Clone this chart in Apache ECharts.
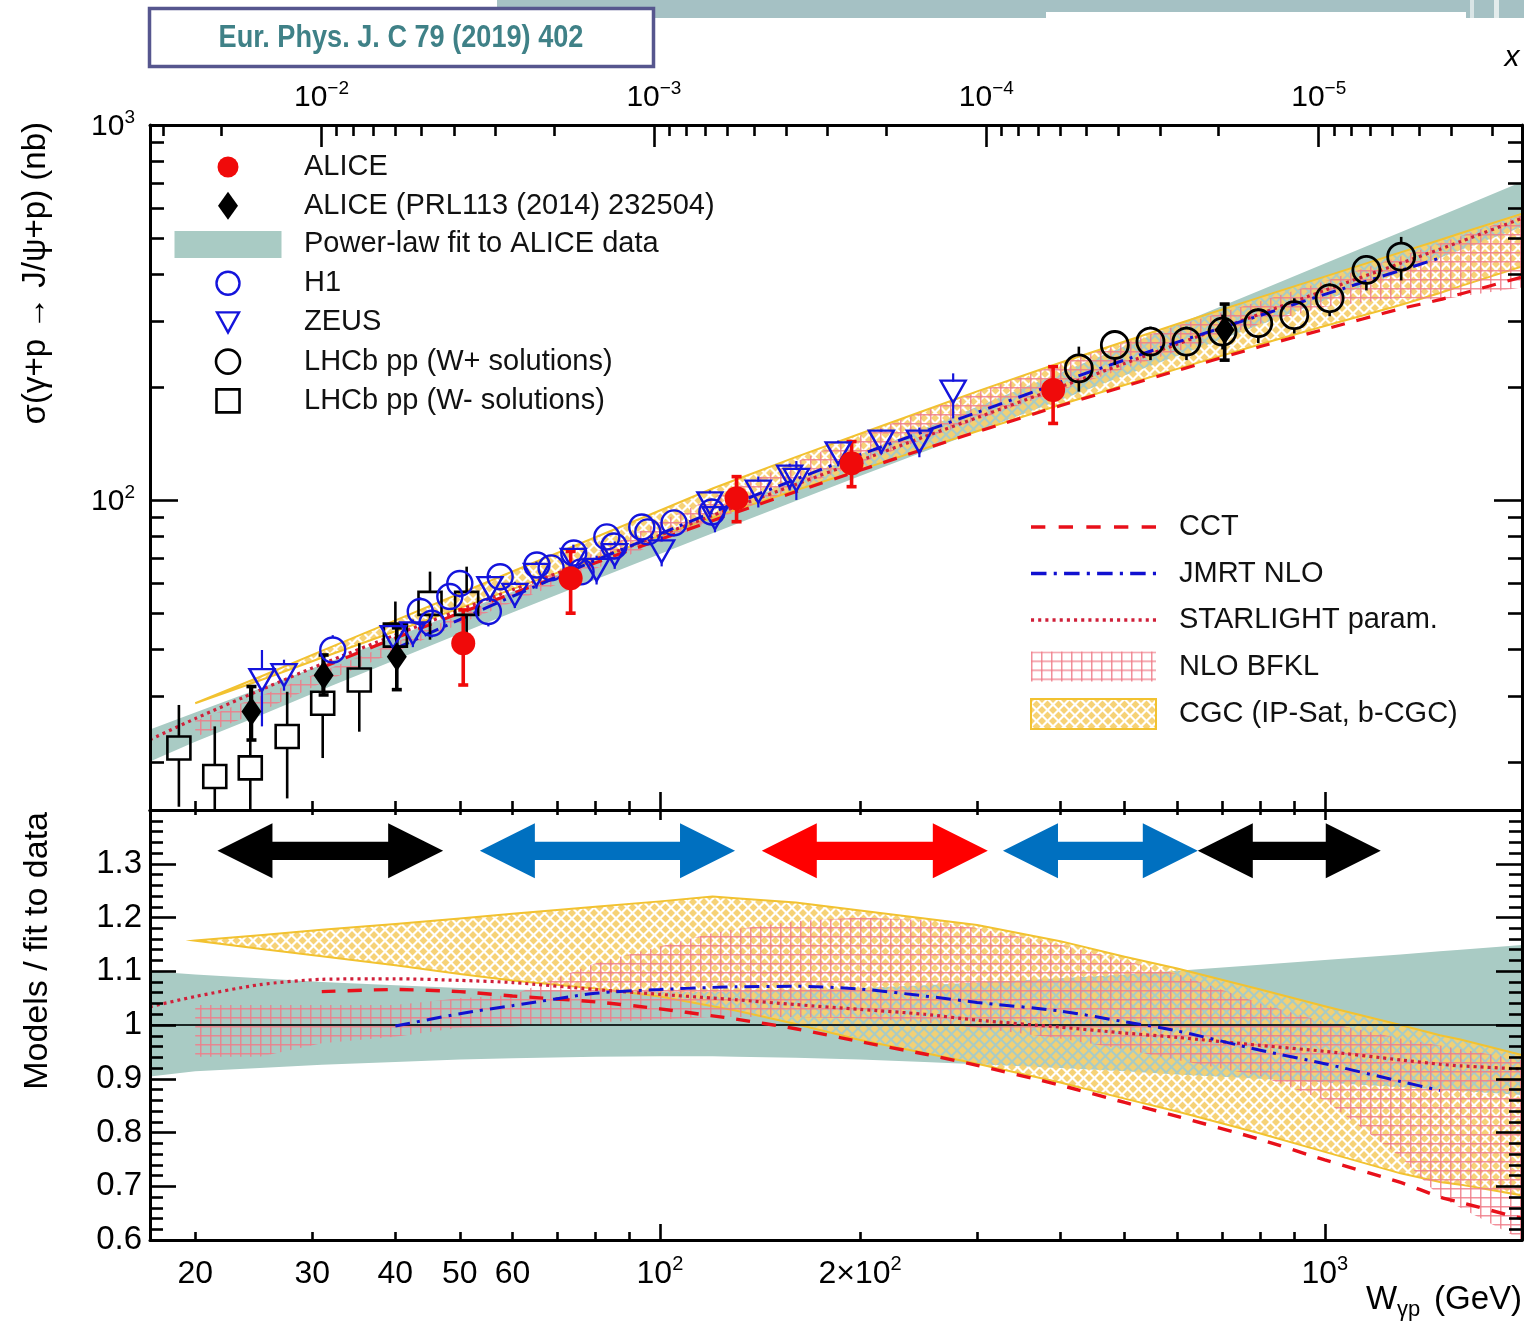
<!DOCTYPE html>
<html>
<head>
<meta charset="utf-8">
<script src="https://cdn.jsdelivr.net/npm/echarts@6/dist/echarts.min.js"></script>
<style>
  html, body { margin: 0; padding: 0; background: #ffffff; }
  #chart { width: 1524px; height: 1321px; }
</style>
</head>
<body>
<div id="chart"></div>
<script>
// ---------------------------------------------------------------------------
// J/psi photoproduction cross section vs W_gamma-p, with model ratios
// ---------------------------------------------------------------------------

// Common W grid (GeV) on which the model curves and the fit band are tabulated
const wGrid = [17.1, 20, 25, 31, 40, 50, 60, 80, 100, 120, 130, 160, 200, 250, 300, 400, 500, 600, 800, 1000, 1300, 1490, 1600, 1980];

// Power-law fit to the ALICE data (central value, nb) on wGrid
const fitSigma = [22.2, 24.8, 28.9, 33.65, 40.2, 47.0, 53.4, 65.2, 76.2, 86.6, 91.6, 105.9, 123.8, 144.6, 164.3, 200.9, 234.8, 266.6, 326.0, 380.9, 457.5, 503.2, 528.9, 614.1];
// Fit uncertainty band, as ratio to the central fit
const fitRatioHi = [1.100, 1.094, 1.087, 1.080, 1.074, 1.069, 1.066, 1.063, 1.062, 1.062, 1.063, 1.065, 1.069, 1.074, 1.079, 1.087, 1.094, 1.101, 1.112, 1.121, 1.131, 1.137, 1.140, 1.149];
const fitRatioLo = [0.904, 0.914, 0.920, 0.926, 0.931, 0.936, 0.938, 0.941, 0.942, 0.942, 0.941, 0.939, 0.936, 0.931, 0.927, 0.920, 0.914, 0.908, 0.900, 0.893, 0.884, 0.880, 0.877, 0.870];

// Models / fit
const cctRatio       = [null, null, null, 1.062, 1.066, 1.062, 1.054, 1.043, 1.030, 1.017, 1.011, 0.993, 0.969, 0.946, 0.925, 0.888, 0.856, 0.830, 0.787, 0.749, 0.707, 0.680, 0.670, 0.640];
const jmrtRatio      = [null, null, null, null, 0.998, 1.021, 1.036, 1.059, 1.066, 1.070, 1.071, 1.072, 1.067, 1.054, 1.042, 1.026, 1.006, 0.989, 0.953, 0.928, 0.895, 0.878, null, null];
const starlightRatio = [1.034, 1.053, 1.075, 1.085, 1.086, 1.083, 1.079, 1.066, 1.057, 1.050, 1.047, 1.038, 1.029, 1.020, 1.009, 0.996, 0.985, 0.977, 0.962, 0.951, 0.935, 0.927, 0.924, 0.918];
const bfklRatioHi    = [null, 1.037, 1.037, 1.037, 1.037, 1.050, 1.056, 1.115, 1.146, 1.171, 1.178, 1.193, 1.200, 1.195, 1.180, 1.150, 1.120, 1.095, 1.040, 1.005, 0.975, 0.962, 0.955, 0.935];
const bfklRatioLo    = [null, 0.941, 0.941, 0.966, 0.978, 0.995, 0.997, 1.005, 1.010, 1.015, 1.015, 1.015, 1.012, 1.005, 0.995, 0.975, 0.955, 0.935, 0.905, 0.860, 0.755, 0.680, 0.660, 0.600];
const cgcRatioHi     = [null, 1.157, 1.167, 1.177, 1.188, 1.198, 1.207, 1.220, 1.230, 1.239, 1.236, 1.228, 1.213, 1.198, 1.186, 1.156, 1.127, 1.105, 1.066, 1.035, 1.000, 0.981, 0.973, 0.944];
const cgcRatioLo     = [null, 1.157, 1.142, 1.128, 1.111, 1.095, 1.083, 1.068, 1.053, 1.035, 1.027, 1.002, 0.972, 0.948, 0.928, 0.893, 0.863, 0.839, 0.798, 0.764, 0.724, 0.708, 0.703, 0.683];

// Measurements: [W (GeV), sigma (nb), sigma low, sigma high]
const aliceData = [
  [50.6, 41.5, 32.1, 50.9],
  [73.4, 61.8, 49.9, 72.9],
  [130.4, 101.0, 87.5, 115.4],
  [194.2, 125.3, 108.5, 143.1],
  [390.3, 196.5, 160.0, 226.7]
];
const alice2014Data = [
  [24.3, 27.3, 22.9, 31.8],
  [31.2, 34.1, 30.2, 38.6],
  [40.2, 38.2, 31.2, 45.6],
  [707, 284, 236, 333]
];
const h1Data = [
  [32.2, 39.8, 36.7, 43.6],
  [43.6, 50.4, 46.0, 55.0],
  [45.4, 46.9, 43.0, 51.0],
  [48.3, 55.3, 51.0, 60.0],
  [50.0, 59.9, 55.0, 65.0],
  [55.2, 50.4, 46.0, 55.0],
  [57.5, 62.4, 57.5, 67.5],
  [65.3, 67.1, 62.0, 72.5],
  [68.6, 65.9, 61.0, 71.0],
  [74.2, 72.2, 66.5, 78.0],
  [76.1, 64.3, 59.5, 69.5],
  [83.2, 79.7, 73.5, 86.0],
  [85.3, 75.4, 69.5, 81.5],
  [93.9, 84.7, 78.0, 91.5],
  [95.9, 82.2, 76.0, 89.0],
  [105.0, 86.9, 80.0, 94.0],
  [119.7, 92.9, 85.5, 100.5]
];
const zeusData = [
  [25.2, 33.1, 24.9, 39.8],
  [27.2, 34.1, 31.0, 37.5],
  [39.7, 43.1, 39.5, 47.0],
  [42.5, 44.1, 40.5, 48.0],
  [55.5, 58.2, 53.5, 63.0],
  [60.5, 55.8, 51.5, 60.5],
  [65.2, 63.1, 58.0, 68.5],
  [74.1, 69.2, 62.0, 76.0],
  [80.3, 65.1, 59.5, 71.0],
  [85.5, 71.3, 65.5, 77.5],
  [100.6, 72.9, 66.5, 80.0],
  [118.9, 98.0, 90.0, 106.0],
  [121.0, 89.4, 82.0, 97.0],
  [140.6, 105.2, 95.5, 115.5],
  [156.7, 115.4, 106.0, 125.0],
  [160.4, 113.1, 100.0, 127.0],
  [185.4, 133.2, 123.0, 144.0],
  [215.3, 143.1, 133.0, 154.0],
  [245.6, 143.1, 130.0, 156.0],
  [276.1, 194.5, 165.0, 217.6]
];
const lhcbPlusData = [
  [426.7, 224.4, 194.5, 256.4],
  [483.3, 259.0, 229.0, 284.0],
  [546.8, 264.4, 236.0, 290.0],
  [619.4, 264.4, 236.0, 290.0],
  [701.8, 281.0, 252.0, 312.0],
  [794.3, 296.0, 262.0, 324.0],
  [899.8, 311.0, 278.0, 345.0],
  [1017, 345.0, 309.0, 378.0],
  [1155, 410.6, 362.0, 450.0],
  [1303, 445.6, 385.0, 503.0]
];
const lhcbMinusData = [
  [18.9, 21.8, 15.2, 28.4],
  [21.4, 18.3, 12.0, 24.9],
  [24.2, 19.3, 12.0, 31.8],
  [27.5, 23.4, 16.0, 30.8],
  [31.1, 28.7, 20.5, 38.6],
  [35.3, 33.1, 24.1, 41.5],
  [40.0, 43.6, 36.0, 53.6],
  [45.1, 53.0, 42.4, 64.4],
  [51.2, 53.0, 44.0, 66.4]
];

// W ranges marked with double arrows in the ratio panel
const arrowRanges = [[21.6, 47.2], [53.6, 129.7], [142.3, 311.3], [328.1, 644.2], [644.2, 1214]];
const arrowColors = ['#000000', '#0070c0', '#ff0000', '#0070c0', '#000000'];
const arrowLevel = 1.324;

// Axis ticks and labels
const wMajorTicks = [100, 1000];
const wMinorTicks = [20, 30, 40, 50, 60, 70, 80, 90, 200, 300, 400, 500, 600, 700, 800, 900];
const wTickLabels = [20, 30, 40, 50, 60, 100, 200, 1000];
const sigmaMajorTicks = [100, 1000];
const sigmaMinorTicks = [20, 30, 40, 50, 60, 70, 80, 90, 200, 300, 400, 500, 600, 700, 800, 900];
const xBjMajorTicks = [1e-2, 1e-3, 1e-4, 1e-5];
const xBjMinorTicks = [];
[-6, -5, -4, -3, -2].forEach(function (e) {
  for (let k = 2; k <= 9; k++) xBjMinorTicks.push(k * Math.pow(10, e));
});

// ---------------------------------------------------------------------------
// Ranges and styling
// ---------------------------------------------------------------------------
const FONT = "'Liberation Sans', Arial, Helvetica, sans-serif";
const W_MIN = 17.1, W_MAX = 1980;
const SIGMA_MIN = 14.9, SIGMA_MAX = 1000;
const M_JPSI = 3.0969;                                  // GeV, for the Bjorken-x axis x = M^2 / W^2
const X_MIN = M_JPSI * M_JPSI / (W_MAX * W_MAX);
const X_MAX = M_JPSI * M_JPSI / (W_MIN * W_MIN);

const TEAL = '#a9cbc4';
const CGC_LINE = '#f2c230';
const RED = '#f00a0a';
const BLUE = '#1414dc';
const CCT_COLOR = '#e8101a';
const JMRT_COLOR = '#1010d0';
const STARLIGHT_COLOR = '#d0203a';

function makePattern(w, h, draw) {
  const c = document.createElement('canvas');
  c.width = w; c.height = h;
  draw(c.getContext('2d'));
  return { image: c, repeat: 'repeat' };
}
// CGC: yellow diamond crosshatch
const cgcPattern = makePattern(11, 11, function (ctx) {
  ctx.fillStyle = 'rgba(246,208,112,0.95)';
  const d = 4.0;
  [[5.5, 5.5], [0, 0], [11, 0], [0, 11], [11, 11]].forEach(function (p) {
    ctx.beginPath();
    ctx.moveTo(p[0], p[1] - d); ctx.lineTo(p[0] + d, p[1]);
    ctx.lineTo(p[0], p[1] + d); ctx.lineTo(p[0] - d, p[1]);
    ctx.closePath(); ctx.fill();
  });
});
// NLO BFKL: pink grid hatch
const bfklPattern = makePattern(10, 9, function (ctx) {
  ctx.fillStyle = 'rgba(240,125,138,0.85)';
  ctx.fillRect(0, 0, 10, 1.5);
  ctx.fillRect(0, 0, 1.5, 9);
});

// Rich-text styles for power-of-ten labels
function richNum(size, supSize) {
  return {
    b: { fontSize: size, lineHeight: size + 4, verticalAlign: 'bottom', fontFamily: FONT, color: '#000' },
    sup: { fontSize: supSize, lineHeight: 16, verticalAlign: 'top', fontFamily: FONT, color: '#000' }
  };
}
function wLabel(v) {
  const r = Math.round(v);
  if (r === 100) return '{b|10}{sup|2}';
  if (r === 1000) return '{b|10}{sup|3}';
  if (r === 200) return '{b|2×10}{sup|2}';
  return '{b|' + r + '}';
}
function powLabel(v) {
  const e = Math.round(Math.log10(v));
  return '{b|10}{sup|' + (e < 0 ? '\u2212' + (-e) : e) + '}';
}

const tickLine = { color: '#000', width: 2.6 };
const frameLine = { show: true, onZero: false, lineStyle: { color: '#000', width: 3 } };

function tickAxis(base, ticks, len, extra) {
  return Object.assign({
    axisLine: { show: false, onZero: false },
    axisTick: { show: true, inside: true, length: len, customValues: ticks, lineStyle: tickLine },
    axisLabel: { show: false },
    splitLine: { show: false },
    minorTick: { show: false },
    z: 10
  }, base, extra || {});
}

const wTop = { type: 'log', gridIndex: 0, min: W_MIN, max: W_MAX, position: 'bottom' };
const xBjTop = { type: 'log', gridIndex: 0, min: X_MIN, max: X_MAX, inverse: true, position: 'top' };
const wBottom = { type: 'log', gridIndex: 1, min: W_MIN, max: W_MAX, position: 'bottom' };
const wBottomUpper = { type: 'log', gridIndex: 1, min: W_MIN, max: W_MAX, position: 'top' };
const sigmaLeft = { type: 'log', gridIndex: 0, min: SIGMA_MIN, max: SIGMA_MAX, position: 'left' };
const sigmaRight = { type: 'log', gridIndex: 0, min: SIGMA_MIN, max: SIGMA_MAX, position: 'right' };

function ratioAxis(position, withLabels) {
  return {
    type: 'value', gridIndex: 1, min: 0.6, max: 1.4, interval: 0.1, position: position,
    axisLine: frameLine,
    axisTick: { show: true, inside: true, length: 26, lineStyle: tickLine },
    minorTick: { show: true, splitNumber: 5, length: 13, lineStyle: tickLine },
    splitLine: { show: false },
    axisLabel: withLabels ? {
      show: true, margin: 8, fontSize: 33, fontFamily: FONT, color: '#000', showMaxLabel: false,
      formatter: function (v) { const r = Math.round(v * 10) / 10; return r === 1 ? '1' : r.toFixed(1); }
    } : { show: false },
    z: 10
  };
}

// ---------------------------------------------------------------------------
// Series builders
// ---------------------------------------------------------------------------
function bandPoints(hi, lo, toSigma) {
  const pts = [];
  wGrid.forEach(function (w, i) {
    if (hi[i] == null || lo[i] == null) return;
    const f = toSigma ? fitSigma[i] : 1;
    pts.push([w, lo[i] * f, hi[i] * f]);
  });
  return pts;
}
function bandSeries(name, hi, lo, top, fill, stroke, z) {
  const pts = bandPoints(hi, lo, top);
  return {
    type: 'custom', name: name, silent: true, clip: true, z: z,
    xAxisIndex: top ? 0 : 4, yAxisIndex: top ? 0 : 4,
    data: pts, encode: { x: 0, y: [1, 2] },
    renderItem: function (params, api) {
      if (params.dataIndex !== 0) return null;
      const upper = pts.map(function (p) { return api.coord([p[0], p[2]]); });
      const lower = pts.map(function (p) { return api.coord([p[0], p[1]]); }).reverse();
      return {
        type: 'polygon',
        shape: { points: upper.concat(lower) },
        style: { fill: fill, stroke: stroke || null, lineWidth: stroke ? 2 : 0 }
      };
    }
  };
}
function curveSeries(name, ratio, top, color, width, dash, z) {
  const data = [];
  wGrid.forEach(function (w, i) {
    if (ratio[i] == null) return;
    data.push([w, top ? ratio[i] * fitSigma[i] : ratio[i]]);
  });
  return {
    type: 'line', name: name, silent: true, z: z, clip: true,
    xAxisIndex: top ? 0 : 4, yAxisIndex: top ? 0 : 4,
    data: data, showSymbol: false, symbol: 'none', smooth: 0.25,
    itemStyle: { color: color },
    lineStyle: { color: color, width: width, type: dash, cap: 'butt' }
  };
}
function errorSeries(name, data, color, width, gap, cap) {
  return {
    type: 'custom', name: name, silent: true, z: 6,
    xAxisIndex: 0, yAxisIndex: 0,
    data: data, encode: { x: 0, y: [1, 2, 3] },
    renderItem: function (params, api) {
      const w = api.value(0);
      const c = api.coord([w, api.value(1)]);
      const lo = api.coord([w, api.value(2)]);
      const hi = api.coord([w, api.value(3)]);
      const cs = params.coordSys;
      const yTop = cs.y, yBot = cs.y + cs.height;
      const clampY = function (y) { return Math.max(yTop, Math.min(yBot, y)); };
      const style = { stroke: color, lineWidth: width };
      const kids = [];
      if (hi[1] < c[1] - gap) kids.push({ type: 'line', shape: { x1: c[0], y1: clampY(hi[1]), x2: c[0], y2: c[1] - gap }, style: style });
      if (lo[1] > c[1] + gap) kids.push({ type: 'line', shape: { x1: c[0], y1: c[1] + gap, x2: c[0], y2: clampY(lo[1]) }, style: style });
      if (cap) {
        if (hi[1] >= yTop) kids.push({ type: 'line', shape: { x1: c[0] - cap, y1: hi[1], x2: c[0] + cap, y2: hi[1] }, style: style });
        if (lo[1] <= yBot) kids.push({ type: 'line', shape: { x1: c[0] - cap, y1: lo[1], x2: c[0] + cap, y2: lo[1] }, style: style });
      }
      return { type: 'group', children: kids };
    }
  };
}
function markerSeries(name, data, symbol, size, itemStyle) {
  return {
    type: 'scatter', name: name, z: 7, silent: true,
    xAxisIndex: 0, yAxisIndex: 0,
    data: data, encode: { x: 0, y: 1 },
    symbol: symbol, symbolSize: size,
    itemStyle: Object.assign({ opacity: 1 }, itemStyle)
  };
}

const DIAMOND = 'path://M10,0L20,14L10,28L0,14Z';
const TRI_DOWN = 'path://M0,0L20,0L10,17.3Z';

// Legend icons: each path carries a fixed 28 px high frame so that the
// marker keeps its own size inside the legend slot
const ICON_BOX = 28;
function circleIcon(d) {
  const c = ICON_BOX / 2, r = d / 2;
  return 'path://M0,0M' + ICON_BOX + ',' + ICON_BOX +
    'M' + (c - r) + ',' + c + 'A' + r + ',' + r + ' 0 1 0 ' + (c + r) + ',' + c +
    'A' + r + ',' + r + ' 0 1 0 ' + (c - r) + ',' + c + 'Z';
}
const ICON_DIAMOND = 'path://M0,0M20,28M10,0L20,14L10,28L0,14Z';
const ICON_TRIANGLE = 'path://M0,0M22,28M0,4L22,4L11,24Z';
const ICON_SQUARE = 'path://M0,0M28,28M2.5,2.5H25.5V25.5H2.5Z';
const ICON_BAND = 'path://M0,0.5H107V27.5H0Z M0,0M0,28';

function dashIcon(segments, total, h) {
  // repeated segment pattern drawn as filled bars, for legend samples
  let x = 0, i = 0, d = '';
  while (x < total) {
    const seg = segments[i % segments.length];
    if (i % 2 === 0) {
      const len = Math.min(seg, total - x);
      d += 'M' + x + ',0h' + len + 'v' + h + 'h' + (-len) + 'Z';
    }
    x += seg; i++;
  }
  return 'path://' + d;
}

const legendText = { fontSize: 29, fontFamily: FONT, color: '#111', lineHeight: 30 };

const option = {
  animation: false,
  backgroundColor: '#ffffff',
  grid: [
    { left: 150, top: 125, width: 1372, height: 685, show: false },
    { left: 150, top: 810, width: 1372, height: 430, show: false }
  ],
  xAxis: [
    tickAxis(wTop, wMinorTicks, 9),                                              // 0 data axis, upper panel
    tickAxis(wTop, wMajorTicks, 18, { axisLine: frameLine }),                    // 1
    tickAxis(xBjTop, xBjMinorTicks, 11),                                         // 2 Bjorken x
    tickAxis(xBjTop, xBjMajorTicks, 22, {
      axisLine: frameLine,
      axisLabel: { show: true, customValues: xBjMajorTicks, margin: 12, formatter: powLabel, rich: richNum(30, 19) }
    }),                                                                          // 3
    tickAxis(wBottom, wMinorTicks, 8, {
      axisLabel: { show: true, customValues: wTickLabels, margin: 14, formatter: wLabel, rich: richNum(32, 20) }
    }),                                                                          // 4 data axis, ratio panel
    tickAxis(wBottom, wMajorTicks, 16, { axisLine: frameLine }),                 // 5
    tickAxis(wBottomUpper, wMinorTicks, 5),                                      // 6
    tickAxis(wBottomUpper, wMajorTicks, 10, { axisLine: frameLine })             // 7
  ],
  yAxis: [
    tickAxis(sigmaLeft, sigmaMinorTicks, 14),                                    // 0 data axis, upper panel
    tickAxis(sigmaLeft, sigmaMajorTicks, 28, {
      axisLine: frameLine,
      axisLabel: { show: true, customValues: sigmaMajorTicks, margin: 15, formatter: powLabel, rich: richNum(30, 19) }
    }),                                                                          // 1
    tickAxis(sigmaRight, sigmaMinorTicks, 14),                                   // 2
    tickAxis(sigmaRight, sigmaMajorTicks, 28, { axisLine: frameLine }),          // 3
    ratioAxis('left', true),                                                     // 4 data axis, ratio panel
    ratioAxis('right', false)                                                    // 5
  ],
  legend: [
    {
      orient: 'vertical', left: 174.5, top: 152, padding: 0, itemWidth: 142, itemHeight: ICON_BOX, itemGap: 8.7,
      selectedMode: false, textStyle: legendText, symbolKeepAspect: true,
      data: [
        { name: 'ALICE', icon: circleIcon(21), itemStyle: { color: RED, borderWidth: 0 } },
        { name: 'ALICE (PRL113 (2014) 232504)', icon: ICON_DIAMOND, itemStyle: { color: '#000', borderWidth: 0 } },
        { name: 'Power-law fit to ALICE data', icon: ICON_BAND, itemStyle: { color: TEAL, borderWidth: 0 } },
        { name: 'H1', icon: circleIcon(23), itemStyle: { color: 'rgba(0,0,0,0)', borderColor: BLUE, borderWidth: 2.4 } },
        { name: 'ZEUS', icon: ICON_TRIANGLE, itemStyle: { color: 'rgba(0,0,0,0)', borderColor: BLUE, borderWidth: 2.4 } },
        { name: 'LHCb pp (W+ solutions)', icon: circleIcon(24), itemStyle: { color: 'rgba(0,0,0,0)', borderColor: '#000', borderWidth: 2.6 } },
        { name: 'LHCb pp (W- solutions)', icon: ICON_SQUARE, itemStyle: { color: 'rgba(0,0,0,0)', borderColor: '#000', borderWidth: 2.6 } }
      ]
    },
    {
      orient: 'vertical', left: 1030, top: 512, padding: 0, itemWidth: 125, itemHeight: 30, itemGap: 16.5,
      selectedMode: false, symbolKeepAspect: true,
      textStyle: Object.assign({ padding: [0, 0, 0, 18] }, legendText),
      data: [
        { name: 'CCT', icon: dashIcon([14, 13], 125, 3.2), itemStyle: { color: CCT_COLOR, borderWidth: 0 } },
        { name: 'JMRT NLO', icon: dashIcon([15, 7, 3, 7], 125, 3.2), itemStyle: { color: JMRT_COLOR, borderWidth: 0 } },
        { name: 'STARLIGHT param.', icon: dashIcon([3, 4], 125, 3.2), itemStyle: { color: STARLIGHT_COLOR, borderWidth: 0 } },
        { name: 'NLO BFKL', icon: 'rect', itemStyle: { color: bfklPattern, borderWidth: 0 } },
        { name: 'CGC (IP-Sat, b-CGC)', icon: 'rect', itemStyle: { color: cgcPattern, borderColor: CGC_LINE, borderWidth: 2 } }
      ]
    }
  ],
  series: [
    // --- upper panel: cross section ---
    bandSeries('Power-law fit to ALICE data', fitRatioHi, fitRatioLo, true, TEAL, null, 1),
    bandSeries('CGC (IP-Sat, b-CGC)', cgcRatioHi, cgcRatioLo, true, cgcPattern, CGC_LINE, 2),
    bandSeries('NLO BFKL', bfklRatioHi, bfklRatioLo, true, bfklPattern, null, 2),
    curveSeries('STARLIGHT param.', starlightRatio, true, STARLIGHT_COLOR, 3.2, [3, 4], 4),
    curveSeries('CCT', cctRatio, true, CCT_COLOR, 3.2, [14, 12], 4),
    curveSeries('JMRT NLO', jmrtRatio, true, JMRT_COLOR, 3, [15, 7, 3, 7], 4),

    errorSeries('LHCb W- uncertainty', lhcbMinusData, '#000', 2.6, 12, 0),
    errorSeries('LHCb W+ uncertainty', lhcbPlusData, '#000', 2.6, 13, 0),
    errorSeries('H1 uncertainty', h1Data, BLUE, 2.2, 12, 0),
    errorSeries('ZEUS uncertainty', zeusData, BLUE, 2.2, 10, 0),
    errorSeries('ALICE 2014 uncertainty', alice2014Data, '#000', 3.6, 0, 5),
    errorSeries('ALICE uncertainty', aliceData, RED, 3.6, 0, 5),

    markerSeries('LHCb pp (W- solutions)', lhcbMinusData, 'rect', 23, { color: 'rgba(0,0,0,0)', borderColor: '#000', borderWidth: 2.6 }),
    markerSeries('LHCb pp (W+ solutions)', lhcbPlusData, 'circle', 27, { color: 'rgba(0,0,0,0)', borderColor: '#000', borderWidth: 2.8 }),
    markerSeries('H1', h1Data, 'circle', 25, { color: 'rgba(0,0,0,0)', borderColor: BLUE, borderWidth: 2.4 }),
    markerSeries('ZEUS', zeusData, TRI_DOWN, [25, 22], { color: 'rgba(0,0,0,0)', borderColor: BLUE, borderWidth: 2.4 }),
    markerSeries('ALICE (PRL113 (2014) 232504)', alice2014Data, DIAMOND, [20, 29], { color: '#000' }),
    markerSeries('ALICE', aliceData, 'circle', 24, { color: RED }),

    // --- lower panel: models / fit ---
    bandSeries('Power-law fit to ALICE data', fitRatioHi, fitRatioLo, false, TEAL, null, 1),
    bandSeries('CGC (IP-Sat, b-CGC)', cgcRatioHi, cgcRatioLo, false, cgcPattern, CGC_LINE, 2),
    bandSeries('NLO BFKL', bfklRatioHi, bfklRatioLo, false, bfklPattern, null, 2),
    {
      type: 'line', name: 'unity', silent: true, z: 3, xAxisIndex: 4, yAxisIndex: 4,
      data: [[W_MIN, 1], [W_MAX, 1]], showSymbol: false, symbol: 'none',
      lineStyle: { color: '#1b2624', width: 2.2 }
    },
    curveSeries('STARLIGHT param.', starlightRatio, false, STARLIGHT_COLOR, 3.2, [3, 4], 4),
    curveSeries('CCT', cctRatio, false, CCT_COLOR, 3.4, [14, 12], 4),
    curveSeries('JMRT NLO', jmrtRatio, false, JMRT_COLOR, 3, [15, 7, 3, 7], 4),
    {
      type: 'custom', name: 'W ranges', silent: true, z: 5, xAxisIndex: 4, yAxisIndex: 4,
      data: arrowRanges.map(function (r, i) { return [r[0], r[1], arrowLevel, i]; }),
      encode: { x: [0, 1], y: 2 },
      renderItem: function (params, api) {
        const a = api.coord([api.value(0), api.value(2)]);
        const b = api.coord([api.value(1), api.value(2)]);
        const hl = 55, hh = 27.5, sh = 9.2, y = a[1];
        const pts = [
          [a[0], y], [a[0] + hl, y - hh], [a[0] + hl, y - sh], [b[0] - hl, y - sh], [b[0] - hl, y - hh],
          [b[0], y], [b[0] - hl, y + hh], [b[0] - hl, y + sh], [a[0] + hl, y + sh], [a[0] + hl, y + hh]
        ];
        return { type: 'polygon', shape: { points: pts }, style: { fill: arrowColors[api.value(3)] } };
      }
    }
  ],
  graphic: [
    // banner strip along the top edge
    { type: 'rect', z: 0, shape: { x: 497, y: 0, width: 1027, height: 18 }, style: { fill: '#a5c1c4' } },
    { type: 'rect', z: 1, shape: { x: 1046, y: 12, width: 420, height: 8 }, style: { fill: '#ffffff' } },
    { type: 'rect', z: 1, shape: { x: 1470, y: 0, width: 4, height: 18 }, style: { fill: '#d9e5e6' } },
    { type: 'rect', z: 1, shape: { x: 1494, y: 0, width: 5, height: 18 }, style: { fill: '#e3ecec' } },
    // reference box
    { type: 'rect', z: 2, shape: { x: 149.5, y: 8.5, width: 504, height: 58 }, style: { fill: '#ffffff', stroke: '#56568e', lineWidth: 3.5 } },
    { type: 'text', z: 3, x: 401, y: 38, scaleX: 0.875, style: {
        text: 'Eur. Phys. J. C 79 (2019) 402', fill: '#3f8187',
        font: "bold 31px 'Liberation Sans', Arial, sans-serif",
        textAlign: 'center', textVerticalAlign: 'middle', align: 'center', verticalAlign: 'middle' } },
    // axis titles
    { type: 'text', x: 1512, y: 58, style: {
        text: 'x', fill: '#000', font: 'italic 30px ' + FONT,
        textAlign: 'center', textVerticalAlign: 'middle', align: 'center', verticalAlign: 'middle' } },
    { type: 'text', x: 36, y: 122, rotation: Math.PI / 2, style: {
        text: 'σ(γ+p → J/ψ+p) (nb)', fill: '#000', font: '33px ' + FONT,
        textAlign: 'right', textVerticalAlign: 'middle', align: 'right', verticalAlign: 'middle' } },
    { type: 'text', x: 38, y: 812, rotation: Math.PI / 2, style: {
        text: 'Models / fit to data', fill: '#000', font: '34px ' + FONT,
        textAlign: 'right', textVerticalAlign: 'middle', align: 'right', verticalAlign: 'middle' } },
    { type: 'text', x: 1366, y: 1300, style: {
        text: 'W', fill: '#000', font: '33px ' + FONT,
        textAlign: 'left', textVerticalAlign: 'middle', align: 'left', verticalAlign: 'middle' } },
    { type: 'text', x: 1397, y: 1310, style: {
        text: 'γp', fill: '#000', font: '22px ' + FONT,
        textAlign: 'left', textVerticalAlign: 'middle', align: 'left', verticalAlign: 'middle' } },
    { type: 'text', x: 1522, y: 1300, style: {
        text: '(GeV)', fill: '#000', font: '33px ' + FONT,
        textAlign: 'right', textVerticalAlign: 'middle', align: 'right', verticalAlign: 'middle' } }
  ]
};

const chart = echarts.init(document.getElementById('chart'), null, { renderer: 'canvas' });
chart.setOption(option);
</script>
</body>
</html>
